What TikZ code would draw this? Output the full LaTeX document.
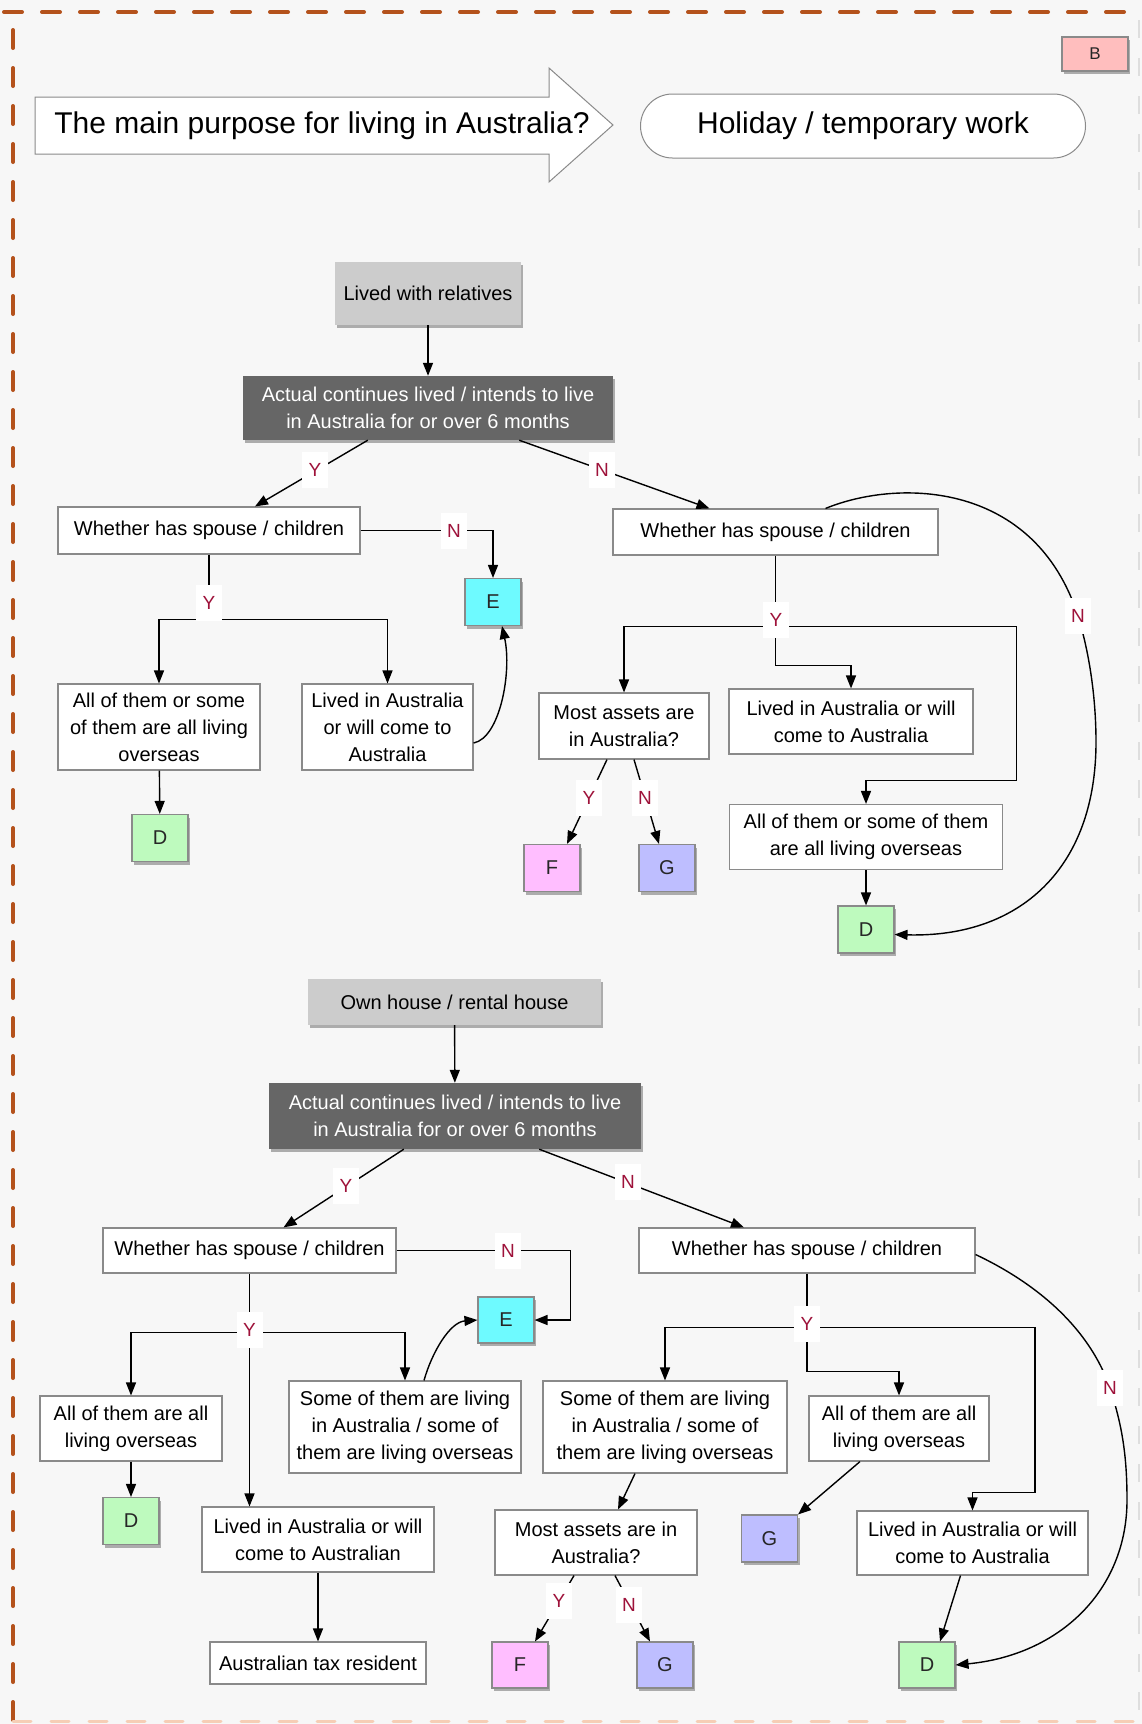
\documentclass[tikz,border=0pt]{standalone}
\usepackage{fontspec}
\setmainfont{Liberation Sans}
\usetikzlibrary{arrows.meta,shadows,calc}

\definecolor{pagebg}{RGB}{247,247,247}
\definecolor{rim}{RGB}{180,82,28}
\definecolor{rimsoft}{RGB}{246,206,182}
\definecolor{rimgray}{RGB}{222,222,222}
\definecolor{edge}{RGB}{138,138,138}
\definecolor{ynred}{RGB}{158,18,58}
\definecolor{darkfill}{RGB}{102,102,102}
\definecolor{lightfill}{RGB}{204,204,204}
\definecolor{fillE}{RGB}{110,250,255}
\definecolor{fillD}{RGB}{190,250,190}
\definecolor{fillF}{RGB}{255,190,255}
\definecolor{fillG}{RGB}{190,190,255}
\definecolor{fillB}{RGB}{255,190,190}

\tikzset{
  every node/.style={font=\fontsize{20}{27}\selectfont},
  softshadow/.style={drop shadow={shadow xshift=2pt, shadow yshift=-3pt, fill=black, opacity=0.3}},
  txtbox/.style={draw=edge, line width=1.1pt, fill=white, align=center, inner sep=0pt},
  tagbox/.style={draw=edge, line width=1.1pt, align=center, inner sep=0pt,
                 minimum width=56pt, minimum height=47pt, text=black!85, softshadow},
  greybox/.style={fill=lightfill, align=center, inner sep=0pt, softshadow},
  darkbox/.style={fill=darkfill, text=white, align=center, inner sep=0pt, softshadow},
  conn/.style={line width=1.4pt, -{Triangle[length=13pt,width=10pt]}},
  wire/.style={line width=1.4pt},
  yn/.style={fill=white, text=ynred, inner sep=0pt, minimum width=26pt, minimum height=36pt,
             font=\fontsize{19}{19}\selectfont},
}

\begin{document}
\begin{tikzpicture}[x=1pt,y=-1pt]
% page and frame
\fill[pagebg] (0,0) rectangle (1142,1724);
\useasboundingbox (0,0) rectangle (1142,1724);
\draw[rim, line width=4pt, line cap=round, dash pattern=on 18pt off 20pt] (4,12) -- (1142,12);
\draw[rim, line width=4pt, line cap=round, dash pattern=on 18pt off 20pt] (13,30) -- (13,1724);
\draw[rimsoft, line width=3pt, line cap=round, dash pattern=on 18pt off 20pt] (13,1721) -- (1142,1721);
\draw[rimgray, line width=2pt, dash pattern=on 18pt off 20pt] (1139,20) -- (1139,1715);

% header
\draw[draw=edge, fill=white, line width=1pt]
  (35,97) -- (549,97) -- (549,68) -- (613,125) -- (549,182) -- (549,154) -- (35,154) -- cycle;
\node[font=\fontsize{30}{30}\selectfont] (purpose) at (322,126) {The main purpose for living in Australia?};
\node[draw=edge, fill=white, line width=1pt, rounded corners=32pt, minimum width=445pt, minimum height=64pt,
      font=\fontsize{30}{30}\selectfont] (holiday) at (863,126) {Holiday / temporary work};
\node[tagbox, fill=fillB, minimum width=66pt, minimum height=34pt, font=\fontsize{17}{17}\selectfont] (tagB) at (1095,54) {B};

% ---------- lived with relatives ----------
\node[greybox, minimum width=186pt, minimum height=63pt] (t0) at (428,293.5) {Lived with relatives};
\node[darkbox, minimum width=370pt, minimum height=64pt] (t1) at (428,408)
  {Actual continues lived / intends to live\\in Australia for or over 6 months};
\node[txtbox, minimum width=302pt, minimum height=47pt] (tL) at (209,530.5) {Whether has spouse / children};
\node[tagbox, fill=fillE] (tE) at (493,602) {E};
\node[txtbox, minimum width=202pt, minimum height=86pt] (tLa) at (159,727)
  {All of them or some\\of them are all living\\overseas};
\node[txtbox, minimum width=171pt, minimum height=86pt] (tLb) at (387.5,727)
  {Lived in Australia\\or will come to\\Australia};
\node[tagbox, fill=fillD] (tD1) at (160,838) {D};
\node[txtbox, minimum width=325pt, minimum height=46pt] (tR) at (775.5,532) {Whether has spouse / children};
\node[txtbox, minimum width=170pt, minimum height=66pt] (tRa) at (624,726) {Most assets are\\in Australia?};
\node[txtbox, minimum width=244pt, minimum height=65pt] (tRb) at (851,721.5) {Lived in Australia or will\\come to Australia};
\node[txtbox, minimum width=273pt, minimum height=65pt] (tRc) at (866,837) {All of them or some of them\\are all living overseas};
\node[tagbox, fill=fillD] (tD2) at (866,929.5) {D};
\node[tagbox, fill=fillF] (tF) at (552,868) {F};
\node[tagbox, fill=fillG] (tG) at (667,868) {G};

\coordinate (jA) at ($(tL.south)+(0,65)$);
\coordinate (jB) at ($(tR.south)+(0,71)$);

\draw[conn] (t0) -- (t1);
\draw[conn] ($(t1.south west)+(125,0)$) -- ($(tL.north)+(46,0)$);
\draw[conn] ($(t1.south east)+(-94,0)$) -- ($(tR.north)+(-66,0)$);
\draw[conn] (tL.east) -| (tE.north);
\draw[wire] (tL.south) -- (jA);
\draw[conn] (jA) -| (tLa.north);
\draw[conn] (jA) -| (tLb.north);
\draw[conn] (tLa) -- (tD1);
\draw[conn] ($(tLb.east)+(0,16)$) .. controls (500,738) and (512,672) .. ($(tE.south)+(9,0)$);
\draw[wire] (tR.south) -- (jB);
\draw[conn] (jB) -| (tRa.north);
\draw[conn] (jB) -- ++(0,39) -| (tRb.north);
\draw[conn] (jB) -- ++(241,0) -- ++(0,154) -| (tRc.north);
\draw[conn] (tRc) -- (tD2);
\draw[conn] ($(tRa.south)+(-17,0)$) -- ($(tF.north)+(15,0)$);
\draw[conn] ($(tRa.south)+(10,0)$) -- ($(tG.north)+(-8,0)$);
\draw[conn] ($(tR.north)+(50,0)$) .. controls (900,478) and (1035,482) .. (1078,616)
  .. controls (1090,655) and (1096,700) .. (1096,742)
  .. controls (1096,868) and (1020,938) .. ($(tD2.east)+(0,5)$);

% ---------- own house / rental house ----------
\node[greybox, minimum width=293pt, minimum height=46pt] (b0) at (454.5,1002) {Own house / rental house};
\node[darkbox, minimum width=372pt, minimum height=66pt] (b1) at (455,1116)
  {Actual continues lived / intends to live\\in Australia for or over 6 months};
\node[txtbox, minimum width=293pt, minimum height=45pt] (bL) at (249.5,1250.5) {Whether has spouse / children};
\node[tagbox, fill=fillE, minimum height=46pt] (bE) at (506,1320) {E};
\node[txtbox, minimum width=182pt, minimum height=65pt] (bLa) at (131,1428.5) {All of them are all\\living overseas};
\node[tagbox, fill=fillD] (bD1) at (131,1521) {D};
\node[txtbox, minimum width=232pt, minimum height=92pt] (bLb) at (405,1427)
  {Some of them are living\\in Australia / some of\\them are living overseas};
\node[txtbox, minimum width=232pt, minimum height=65pt] (bLc) at (318,1539.5) {Lived in Australia or will\\come to Australian};
\node[txtbox, minimum width=216pt, minimum height=42pt] (bT) at (318,1663) {Australian tax resident};
\node[txtbox, minimum width=336pt, minimum height=45pt] (bR) at (807,1250.5) {Whether has spouse / children};
\node[txtbox, minimum width=244pt, minimum height=92pt] (bRa) at (665,1427)
  {Some of them are living\\in Australia / some of\\them are living overseas};
\node[txtbox, minimum width=180pt, minimum height=65pt] (bRb) at (899,1428.5) {All of them are all\\living overseas};
\node[txtbox, minimum width=202pt, minimum height=65pt] (bRm) at (596,1542.5) {Most assets are in\\Australia?};
\node[tagbox, fill=fillG] (bG1) at (769.5,1538.5) {G};
\node[txtbox, minimum width=231pt, minimum height=64pt] (bRc) at (972.5,1543) {Lived in Australia or will\\come to Australia};
\node[tagbox, fill=fillD, minimum height=46pt] (bD2) at (927,1665) {D};
\node[tagbox, fill=fillF, minimum height=46pt] (bF) at (520,1665) {F};
\node[tagbox, fill=fillG, minimum height=46pt] (bG2) at (665,1665) {G};

\coordinate (jC) at ($(bL.south)+(0,59)$);
\coordinate (jD) at ($(bR.south)+(0,54)$);

\draw[conn] (b0) -- (b1);
\draw[conn] ($(b1.south west)+(135,0)$) -- ($(bL.north)+(34,0)$);
\draw[conn] ($(b1.south east)+(-102,0)$) -- ($(bR.north)+(-63,0)$);
\draw[conn] (bL.east) -- ++(174,0) |- (bE.east);
\draw[wire] (bL.south) -- (jC);
\draw[conn] (jC) -| (bLa.north);
\draw[conn] (jC) -| (bLb.north);
\draw[conn] (jC) -- (jC |- bLc.north);
\draw[conn] (bLa) -- (bD1);
\draw[conn] ($(bLb.north)+(19,0)$) .. controls (432,1352) and (450,1322) .. (bE.west);
\draw[conn] (bLc) -- (bT);
\draw[wire] (bR.south) -- (jD);
\draw[conn] (jD) -| (bRa.north);
\draw[conn] (jD) -- ++(0,44) -| (bRb.north);
\draw[conn] (jD) -- ++(228,0) -- ++(0,165) -| (bRc.north);
\draw[conn] ($(bRa.south)+(-30,0)$) -- ($(bRm.north)+(22,0)$);
\draw[conn] ($(bRb.south)+(-39,0)$) -- (bG1.north east);
\draw[conn] ($(bRc.south)+(-12,0)$) -- ($(bD2.north)+(13,0)$);
\draw[conn] ($(bRm.south)+(-22,0)$) -- ($(bF.north)+(15,0)$);
\draw[conn] ($(bRm.south)+(19,0)$) -- ($(bG2.north)+(-15,0)$);
\draw[conn] ($(bR.east)+(0,4)$) .. controls (1040,1285) and (1090,1330) .. (1110,1388)
  .. controls (1122,1425) and (1127,1455) .. (1127,1500)
  .. controls (1127,1590) and (1060,1655) .. (bD2.east);

% Y / N tags on the connectors
\node[yn] (lY1) at (315,470) {Y};
\node[yn] (lN1) at (602,470) {N};
\node[yn] (lN2) at (454,531) {N};
\node[yn] (lY2) at (209,603) {Y};
\node[yn] (lY3) at (776,620) {Y};
\node[yn] (lN3) at (1078,616) {N};
\node[yn] (lY4) at (589,798) {Y};
\node[yn] (lN4) at (645,798) {N};
\node[yn] (lY5) at (346,1186) {Y};
\node[yn] (lN5) at (628,1182) {N};
\node[yn] (lN6) at (508,1251) {N};
\node[yn] (lY6) at (249.5,1330) {Y};
\node[yn] (lY7) at (807,1324) {Y};
\node[yn] (lN7) at (1110,1388) {N};
\node[yn] (lY8) at (559,1601) {Y};
\node[yn] (lN8) at (629,1605) {N};
\end{tikzpicture}
\end{document}
